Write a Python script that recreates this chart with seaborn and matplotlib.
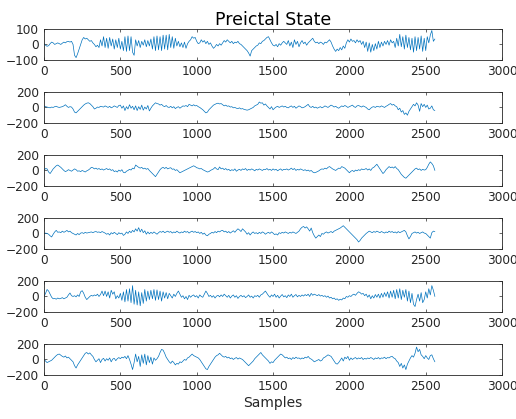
import numpy as np
import pandas as pd
import seaborn as sns
import matplotlib
matplotlib.use("Agg")
import matplotlib.pyplot as plt

# sample index (every 10th sample, 0..2560)
samples = np.arange(0, 2561, 10)

ch1 = [5, -5, -12, -8, 5, 15, 10, 0, 5, 10,
       5, 0, 8, 15, 10, 18, 20, 15, 20, 0,
       -70, -85, -60, -30, 0, 30, 45, 35, 40, 30,
       20, 25, 10, 0, -15, -5, -20, 30, -10, 50,
       -20, 40, -25, 45, -10, 35, -30, 30, -20, 40,
       -30, 20, -40, 50, -45, 55, -40, 50, -50, -70,
       30, -10, 25, -20, 20, -5, 30, -15, 25, -10,
       35, -30, 50, -40, 55, -35, 50, -40, 60, -30,
       60, -35, 65, -20, 50, -25, 40, -10, 20, -15,
       10, -20, 15, -25, 5, 20, 30, 50, 40, 45,
       20, 5, 10, 30, 15, 25, 5, 20, 0, 10,
       -10, -25, -15, 0, -10, 5, -5, 10, 25, 15,
       30, 20, 10, 20, 5, 15, 10, 20, 5, 0,
       -10, -20, -30, -40, -55, -75, -40, -30, -20, -10,
       -5, 10, 5, 20, 25, 35, 45, 50, 30, 10,
       -5, -10, 0, -15, 5, -5, 10, 20, 10, 0,
       25, -10, 15, -20, 30, 0, 20, -15, 10, 25,
       5, 15, -5, 10, 20, 30, 40, 20, 10, 15,
       5, 15, 10, 0, 15, 10, 20, 30, 15, -10,
       -30, -45, -30, -40, -20, -35, -10, -25, 10, 30,
       15, 35, 20, 25, 10, 30, 15, 25, 0, 20,
       -20, 15, -45, 10, -50, 0, -40, 5, -30, 20,
       -20, 15, -10, 20, 0, 25, -5, 30, 10, 20,
       -20, 40, -10, 65, -15, 50, -30, 60, -20, 45,
       -35, 40, -50, 50, -40, 45, -30, 55, -45, 40,
       -40, 50, 10, 60, 90, 20, 35]

ch2 = [20, 10, 5, 0, -5, 5, 0, 10, 15, 5,
       0, 5, 10, 20, 35, 15, 0, 10, 5, -20,
       -60, -70, -50, -30, -10, 10, 30, 45, 55, 60,
       50, 30, 10, -20, -10, 5, 0, 15, 10, 5,
       20, 10, 0, 15, -5, 5, 20, 10, 0, 25,
       30, -10, 20, -40, 10, -20, 35, -10, 15, -30,
       20, -40, 10, -25, 30, -35, 5, -20, 25, -45,
       -10, 20, 40, 60, 50, 45, 30, 40, 20, 10,
       25, 5, 0, 15, -5, 10, -15, 0, 10, -10,
       5, 20, 15, 25, 10, 40, 30, 20, 35, 20,
       25, 10, 0, -15, -30, -50, -70, -60, -30, -10,
       10, 30, 40, 50, 55, 45, 50, 35, 20, 30,
       15, 20, 5, 10, -5, 0, -10, -15, -5, -20,
       -15, -25, -30, -35, -30, -20, -10, 0, 20, 30,
       40, 70, 55, 60, 30, 45, 20, 0, -20, 10,
       -30, -10, 5, 15, 0, 10, 20, 5, 15, 0,
       -5, 10, 20, 0, 15, -10, 5, 20, 10, -5,
       0, 10, 25, 40, 10, 0, 15, -5, 5, -10,
       0, 10, -5, 5, 20, 10, 0, 15, 30, 20,
       5, 15, 0, -10, 5, 20, 10, 25, 15, 0,
       10, 20, 30, 10, 0, 20, 25, 15, 5, 20,
       10, 0, -20, -30, -10, 5, 10, 0, 15, 10,
       5, 20, 10, 0, 15, 25, 40, 50, 30, 40,
       20, 10, -30, -10, -60, -40, -90, -70, -100, -50,
       -20, 10, 40, 20, 60, 30, -50, 50, 10, 40,
       0, 30, -20, -10, 20, -30, -40]

ch3 = [0, 25, 20, -20, -40, -10, 20, 40, 60, 70,
       55, 40, 20, 0, -15, -5, 10, 0, -10, 5,
       20, 10, -10, -5, -15, 0, -10, -20, -5, 5,
       20, 40, 35, 20, 30, 15, 25, 10, 20, 5,
       15, 25, 10, 20, 0, 10, -15, -5, -20, 5,
       -10, 10, -25, -30, -10, 0, 15, 5, 30, 20,
       70, 55, 40, 30, 40, 20, 30, 15, 25, 0,
       -20, -40, -60, -80, -50, -20, 10, 30, 40, 25,
       40, 20, 30, 35, 15, 20, 0, 10, -10, -30,
       -20, -10, 0, 10, 20, 30, 40, 50, 60, 50,
       35, 30, 20, 25, 10, 0, -10, -20, -15, 0,
       10, 20, 40, 20, 10, 45, 20, 30, 10, 25,
       5, 15, -5, 10, 0, 20, -10, 5, 15, 0,
       20, 10, 25, 0, 15, 5, 20, 10, -5, 15,
       5, 20, 10, 0, 15, 10, 25, 5, 15, 0,
       20, 5, 15, -5, 10, 20, 0, 15, 10, 20,
       5, 15, 30, 10, 25, 0, 15, 5, 20, 10,
       0, 10, -5, 5, -10, 0, -20, -30, -25, -15,
       -5, 10, 20, 15, 30, 20, 40, 50, 35, 20,
       10, 0, 15, 30, 25, 50, 40, 30, 10, -10,
       -30, -10, 0, -15, 5, -5, 10, 0, 20, 10,
       15, 25, 5, 20, 0, 30, 40, 60, 80, 50,
       20, -10, -40, -20, 10, 30, 50, 35, 45, 30,
       50, 25, 10, -20, -50, -70, -90, -100, -80, -60,
       -40, -20, 0, 20, 30, 10, 20, 0, 15, 5,
       10, 40, 80, 110, 90, 60, 0]

ch4 = [0, 5, 0, -10, -30, -45, -10, 20, 40, 15,
       20, 10, 30, 15, 25, 40, 20, 30, 10, 0,
       -10, -20, 0, -15, 5, 10, 0, 15, 5, 10,
       15, 20, 10, 20, 25, 15, 20, 10, 25, 15,
       5, -10, 0, -20, 10, -5, 15, 0, -15, 10,
       -5, 5, -25, -10, 20, 0, 30, 10, 40, 20,
       60, 30, 75, 20, 55, 10, 35, -10, 20, -5,
       15, 0, 20, 5, -10, 10, 25, 15, 30, 10,
       20, 30, 15, 25, 5, 20, 10, 30, 15, 5,
       20, 10, 30, 15, 25, 5, 20, 30, 15, 25,
       10, 20, 0, 15, -10, 5, -20, -30, -10, 0,
       15, 5, 25, 10, 30, 20, 35, 40, 20, 30,
       10, 25, 5, 20, 35, 15, 40, 60, 45, 25,
       60, 40, 20, -10, 10, -20, 5, 20, 0, 10,
       -5, 15, 0, 20, 10, -10, 5, 15, 0, 20,
       5, -15, -5, -20, 10, 0, 15, 5, 20, 10,
       0, 15, 5, 20, 10, 0, 15, 30, 60, 80,
       90, 70, 85, 60, 30, 70, 10, -30, -60, -40,
       -20, -40, 0, -10, 10, 20, 5, 15, 25, 10,
       30, 40, 50, 60, 70, 85, 100, 80, 60, 40,
       20, 0, -20, -40, -60, -80, -110, -90, -60, -40,
       -20, 0, 15, 30, 20, 10, 25, 15, 30, 20,
       10, 25, 15, 5, 20, 10, 30, 15, 25, 10,
       20, 5, 25, 10, 20, 30, 40, 20, -30, -70,
       -40, 0, 10, 20, 5, 15, 0, 10, 20, 5,
       0, -20, -40, -60, 10, 30, 25]

ch5 = [0, 40, 90, 70, 30, -10, -30, -25, -35, -20,
       -30, -25, -15, -30, -20, -10, 20, 45, 10, 0,
       10, -5, 20, 0, 60, 75, 40, -10, -40, -20,
       0, 15, 5, 20, 10, 30, 0, 25, 70, 10,
       70, 0, 60, -20, 80, 30, 60, -30, 10, -20,
       40, -50, 60, -70, 90, -60, 100, -80, 140, -100,
       80, -110, 60, -120, 50, -90, 90, -60, 70, -40,
       80, -30, 90, -50, 85, -40, 70, -60, 60, -20,
       50, -30, 40, 10, -20, 30, 0, 40, 70, 30,
       -10, 10, -30, 0, -40, 15, -10, 10, 20, -5,
       10, -20, 20, 0, -10, 30, 70, 40, 0, 15,
       -10, 10, -20, 5, 15, -5, 20, 0, 30, 10,
       -10, 15, -20, 5, 20, -10, 10, -25, 0, 15,
       -5, 10, -15, 0, 20, -10, 5, -20, 10, 0,
       15, -10, 20, 30, 50, 70, 40, 10, -10, 20,
       0, 30, -10, 15, -20, 5, 25, -5, 10, -15,
       20, 0, 30, -10, 10, 25, -5, 15, 0, 20,
       5, 25, 10, 30, 0, 40, 15, 30, 20, 10,
       25, 5, 15, 0, 10, -10, 5, -20, -10, -30,
       -20, -40, -30, -50, -35, -45, -20, -30, 0, -10,
       10, 0, 20, 30, 15, 40, 60, 50, 30, 40,
       10, 30, -10, 20, -30, 10, -20, 25, -10, 30,
       -20, 40, -10, 50, 0, 60, -20, 70, -10, 80,
       -30, 90, -20, 100, -40, 80, -10, 90, -60, 70,
       -80, 40, -100, -130, -40, 30, -60, 50, -80, -40,
       60, -20, 100, 20, 140, 80, 0]

ch6 = [0, -20, -40, -30, -20, -10, 10, 30, 50, 65,
       70, 55, 40, 30, 45, 20, 30, 10, -10, -30,
       -80, -110, -70, -40, -10, 20, 50, 80, 90, 70,
       85, 60, 40, 0, -30, -10, 10, -40, 0, 15,
       -20, 10, -10, 20, -30, 5, 15, -15, 10, 25,
       10, 30, 20, 40, 10, 50, 0, -60, -130, -40,
       70, -30, 40, -90, 60, -50, 70, -70, 50, -40,
       30, -60, 20, -10, 10, 40, 90, 130, 120, 80,
       30, 0, -30, -50, -20, -40, -70, -50, -60, -30,
       -40, -20, 0, -10, 20, 30, 50, 70, 50, 40,
       30, 20, 0, -30, -60, -90, -120, -130, -90, -60,
       -30, 0, 30, 50, 60, 80, 60, 40, 30, 40,
       20, 30, 10, 20, 0, 15, 25, 5, 20, 10,
       0, -20, -40, -60, -80, -60, -40, -20, 10, 30,
       50, 70, 90, 60, 40, 20, 0, -20, -50, -30,
       -40, -10, 10, 30, 50, 70, 60, 40, 20, 30,
       10, 20, 0, 25, 10, 30, 15, 20, 5, 20,
       10, 30, 20, 40, 15, 5, -10, -30, -20, -10,
       0, -20, -10, 20, 30, 45, 60, 50, 40, 10,
       -20, -50, -60, -40, -10, 20, -20, 30, 10, 40,
       -10, 20, 0, 15, 25, 5, 20, 10, 25, 0,
       15, 5, 20, 10, 25, 15, 0, 20, 10, 25,
       5, 20, 15, 30, 10, 25, 20, 35, 40, 20,
       10, -20, -40, -90, -50, -110, -70, -130, -60, -20,
       20, 50, 30, 80, 160, 100, 130, 60, 40, 10,
       50, 20, 0, 50, 60, 10, -30]

channels = [ch1, ch2, ch3, ch4, ch5, ch6]
y_limits = [100, 200, 200, 200, 200, 200]

x_ticks = [0, 500, 1000, 1500, 2000, 2500, 3000]
title = "Preictal State"
x_label = "Samples"

sns.set_theme(style="ticks")
plt.rcParams["font.family"] = ["DejaVu Sans"]

fig, axes = plt.subplots(6, 1, figsize=(5.16, 4.19), dpi=100)
fig.subplots_adjust(left=0.0853, right=0.973, top=0.931, bottom=0.105, hspace=1.03)

edge = "#262626"
for ax, ch, lim in zip(axes, channels, y_limits):
    df = pd.DataFrame({"sample": samples, "value": ch})
    sns.lineplot(data=df, x="sample", y="value", ax=ax, estimator=None,
                 color="#0072BD", linewidth=0.5)
    ax.set_xlim(0, 3000)
    ax.set_ylim(-lim, lim)
    ax.set_xticks(x_ticks)
    ax.set_yticks([-lim, 0, lim])
    ax.set_xlabel("")
    ax.set_ylabel("")
    ax.tick_params(direction="in", top=True, right=True, length=2.5, width=0.5,
                   colors=edge, labelsize=8.7, pad=3.5)
    for s in ax.spines.values():
        s.set_visible(True)
        s.set_linewidth(0.6)
        s.set_color(edge)

axes[0].set_title(title, fontsize=12.5, color="black", pad=3)
axes[-1].set_xlabel(x_label, fontsize=10, color=edge, labelpad=2)

fig.savefig("out.png", dpi=100)
